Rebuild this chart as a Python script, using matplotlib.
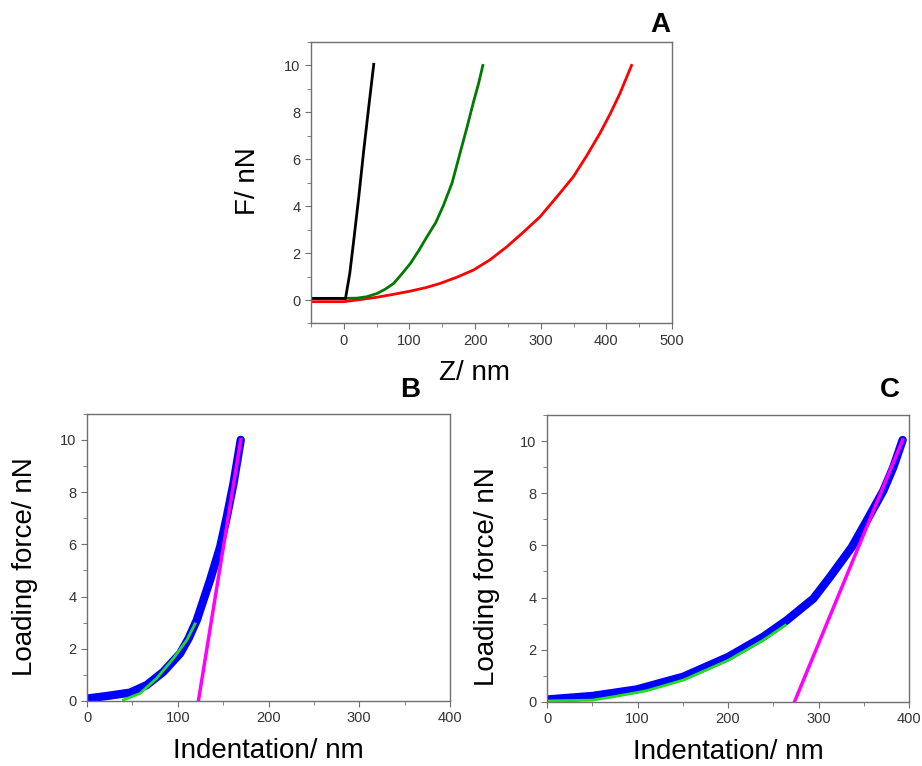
import matplotlib.pyplot as plt
from matplotlib.ticker import MultipleLocator

plt.rcParams['font.family'] = ['Liberation Sans', 'DejaVu Sans']

# Panel A: force vs Z curves
z_black = [-50, -20, 0, 2.6, 9.1, 15.2, 22.8, 30.4, 38, 45.6]
f_black = [0.07, 0.07, 0.07, 0.07, 1.14, 2.56, 4.4, 6.39, 8.24, 10.05]

z_green = [-50, 0, 20, 35, 50.7, 63, 76, 88, 101.4, 114, 126.7, 140, 152, 165, 177.4, 188, 197.6, 205, 211.8]
f_green = [0.07, 0.07, 0.08, 0.14, 0.28, 0.46, 0.71, 1.1, 1.56, 2.1, 2.7, 3.3, 4.05, 5.0, 6.3, 7.4, 8.45, 9.2, 10.0]

z_red = [-50, 0, 25, 50.7, 75, 101.4, 125, 147, 172, 197.6, 223, 248.3, 273, 298.9, 324, 349.5, 370, 390, 406, 420.5, 438.3]
f_red = [-0.07, -0.07, 0.02, 0.12, 0.24, 0.38, 0.53, 0.71, 0.97, 1.28, 1.72, 2.27, 2.88, 3.55, 4.38, 5.25, 6.15, 7.1, 7.95, 8.8, 10.0]

# Panel B
b_blue_x = [1.5, 21.8, 47.4, 65.8, 84.2, 102.6, 112, 121, 135.6, 146.7, 154, 161.4, 169.4]
b_blue_y = [0.1, 0.19, 0.32, 0.61, 1.12, 1.82, 2.4, 3.1, 4.63, 5.9, 7.05, 8.33, 10.0]
b_green_x = [40.1, 58.4, 76.8, 95.2, 109.9, 119]
b_green_y = [0.04, 0.29, 0.87, 1.63, 2.33, 2.95]
b_fit_x = [122.7, 169.4]
b_fit_y = [0.0, 10.0]

# Panel C
c_blue_x = [1.9, 50.1, 99.1, 150.7, 200.4, 239, 264.9, 294.3, 312.7, 336.7, 353.3, 371.7, 382.7, 393]
c_blue_y = [0.1, 0.23, 0.48, 0.97, 1.73, 2.5, 3.13, 3.96, 4.79, 5.93, 6.95, 8.1, 9.0, 10.04]
c_green_x = [0, 50.1, 73.3, 110, 150.7, 200.4, 239, 263.4]
c_green_y = [0.04, 0.07, 0.2, 0.43, 0.84, 1.6, 2.37, 2.94]
c_fit_x = [273.4, 393]
c_fit_y = [0.0, 10.04]

fig = plt.figure(figsize=(9.22, 7.66), dpi=100)

axA = fig.add_axes([0.3373, 0.5777, 0.3916, 0.3675])
axB = fig.add_axes([0.0944, 0.0849, 0.3937, 0.375])
axC = fig.add_axes([0.5933, 0.0836, 0.3926, 0.3747])


def style(ax):
    for s in ax.spines.values():
        s.set_color('#707070')
        s.set_linewidth(1.0)
    ax.tick_params(which='both', direction='out', top=False, right=False,
                   colors='#707070', labelcolor='#333333', labelsize=10.5)
    ax.tick_params(which='major', length=4)
    ax.tick_params(which='minor', length=3)
    ax.yaxis.set_major_locator(MultipleLocator(2))
    ax.yaxis.set_minor_locator(MultipleLocator(1))


axA.plot(z_red, f_red, color='#ff0000', lw=2)
axA.plot(z_green, f_green, color='#007a00', lw=2)
axA.plot(z_black, f_black, color='black', lw=2)
axA.set_xlim(-50, 500)
axA.set_ylim(-1, 11)
axA.xaxis.set_major_locator(MultipleLocator(100))
axA.xaxis.set_minor_locator(MultipleLocator(50))
style(axA)
axA.text(-0.175, 0.506, 'F/ nN', transform=axA.transAxes, rotation=90,
         ha='center', va='center', fontsize=20)
axA.text(0.454, -0.176, 'Z/ nm', transform=axA.transAxes,
         ha='center', va='center', fontsize=20)

for ax, bx, by, gx, gy, fx, fy in [
        (axB, b_blue_x, b_blue_y, b_green_x, b_green_y, b_fit_x, b_fit_y),
        (axC, c_blue_x, c_blue_y, c_green_x, c_green_y, c_fit_x, c_fit_y)]:
    ax.plot(bx, by, color='#0000ff', lw=6, solid_capstyle='round', solid_joinstyle='round')
    ax.plot(gx, gy, color='#22dd22', lw=2)
    ax.plot(fx, fy, color='#ff00ff', lw=2.5)
    ax.set_xlim(0, 400)
    ax.set_ylim(0, 11)
    ax.xaxis.set_major_locator(MultipleLocator(100))
    ax.xaxis.set_minor_locator(MultipleLocator(50))
    style(ax)
    ax.text(0.5, -0.175, 'Indentation/ nm', transform=ax.transAxes,
            ha='center', va='center', fontsize=20)

axB.text(-0.171, 0.466, 'Loading force/ nN', transform=axB.transAxes, rotation=90,
         ha='center', va='center', fontsize=20)
axC.text(-0.166, 0.436, 'Loading force/ nN', transform=axC.transAxes, rotation=90,
         ha='center', va='center', fontsize=20)

fig.text(660 / 922, 1 - 25 / 766, 'A', ha='center', va='center', fontsize=20, fontweight='bold')
fig.text(410 / 922, 1 - 390 / 766, 'B', ha='center', va='center', fontsize=20, fontweight='bold')
fig.text(890 / 922, 1 - 390 / 766, 'C', ha='center', va='center', fontsize=20, fontweight='bold')

fig.savefig('out.png', dpi=100)
